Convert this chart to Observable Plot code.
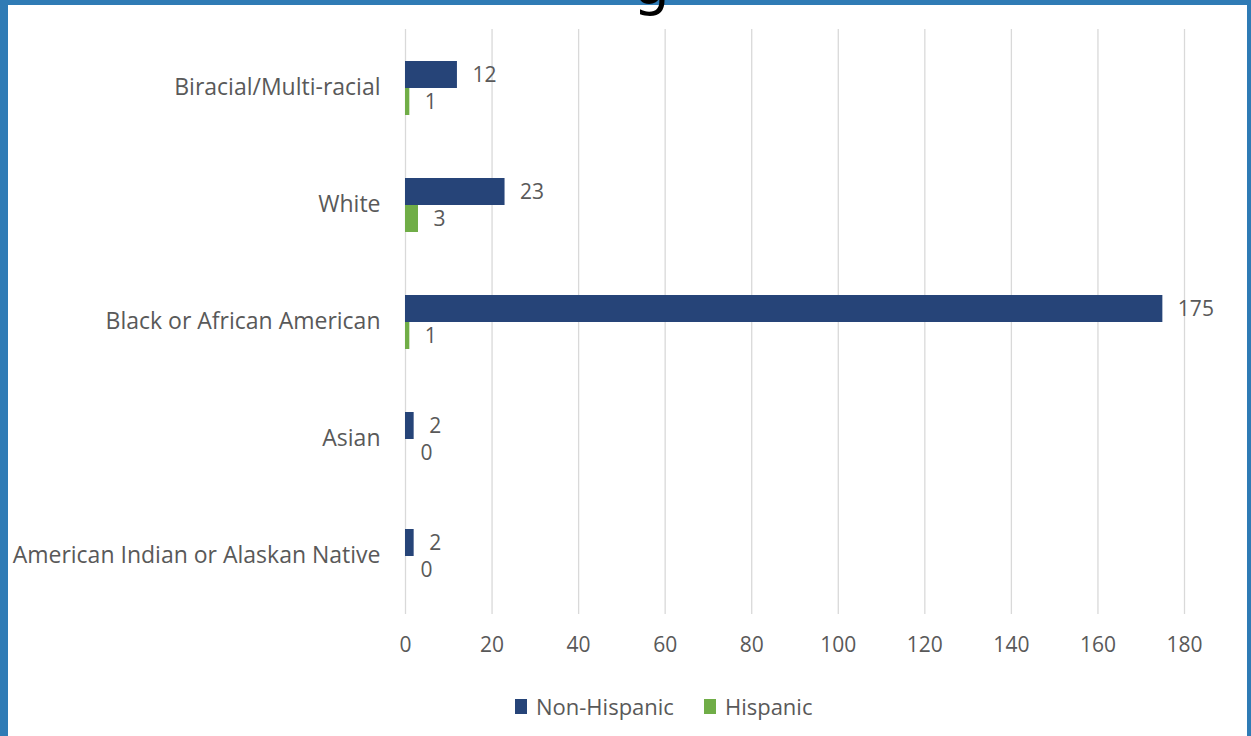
<!DOCTYPE html>
<html>
<head>
<meta charset="utf-8">
<script src="https://cdn.jsdelivr.net/npm/d3@7"></script>
<script src="https://cdn.jsdelivr.net/npm/@observablehq/plot@0.6"></script>
<style>
  html, body { margin: 0; padding: 0; background: #fff; }
  #frame { position: relative; width: 1251px; height: 736px; overflow: hidden; background: #fff; font-family: "Open Sans", Lato, sans-serif; }
  #chart { position: absolute; left: 0; top: 0; }
  .bar-l { position: absolute; left: 0; top: 0; width: 8px; height: 736px; background: #2f7bb5; }
  .bar-t { position: absolute; left: 0; top: 0; width: 1251px; height: 5px; background: #2f7bb5; }
  .bar-r { position: absolute; right: 0; top: 0; width: 4px; height: 736px; background: #2f7bb5; }
  #titlecut { position: absolute; left: 633px; top: -45px; font-family: "DejaVu Sans", sans-serif; font-size: 58px; line-height: 58px; color: #000; }
  #legend { position: absolute; top: 691px; left: 515px; display: flex; align-items: center; font-size: 22px; color: #595959; white-space: nowrap; }
  #legend .sw { display: inline-block; width: 12px; height: 15px; margin-right: 9px; }
  #legend .item { display: flex; align-items: center; margin-right: 30px; }
</style>
</head>
<body>
<div id="frame">
  <div id="chart"></div>
  <div class="bar-t"></div>
  <div class="bar-l"></div>
  <div class="bar-r"></div>
  <div id="titlecut">g</div>
  <div id="legend"></div>
</div>
<script>
const categories = ["Biracial/Multi-racial", "White", "Black or African American", "Asian", "American Indian or Alaskan Native"];
const seriesNames = ["Non-Hispanic", "Hispanic"];
const nonHispanic = [12, 23, 175, 2, 2];
const hispanic = [1, 3, 1, 0, 0];
const xTicks = [0, 20, 40, 60, 80, 100, 120, 140, 160, 180];
const seriesColors = ["#264478", "#70AD47"];

const rows = [];
categories.forEach((c, i) => {
  rows.push({cat: c, series: seriesNames[0], value: nonHispanic[i]});
  rows.push({cat: c, series: seriesNames[1], value: hispanic[i]});
});

const chart = Plot.plot({
  width: 1251,
  height: 670,
  marginLeft: 405,
  marginRight: 67,
  marginTop: 28,
  marginBottom: 55,
  style: {fontFamily: "'Open Sans', Lato, sans-serif", color: "#595959", background: "transparent"},
  x: {domain: [0, 180], ticks: xTicks},
  fy: {domain: categories, padding: 0},
  y: {domain: seriesNames, paddingInner: 0, paddingOuter: 1.14},
  color: {domain: seriesNames, range: seriesColors},
  marks: [
    Plot.gridX(xTicks, {stroke: "#d9d9d9", strokeOpacity: 1, strokeWidth: 1.3}),
    Plot.barX(rows, {fy: "cat", y: "series", x: "value", fill: "series"}),
    Plot.text(rows, {fy: "cat", y: "series", x: "value", text: d => String(d.value), dx: 15, textAnchor: "start", fill: "#595959", fontSize: 21}),
    Plot.axisX(xTicks, {anchor: "bottom", tickSize: 0, tickPadding: 23, fontSize: 21, label: null, tickFormat: d => String(d)}),
    Plot.axisFy({anchor: "left", tickSize: 0, tickPadding: 25, fontSize: 23, label: null}),
    Plot.axisY({ticks: [], label: null, tickSize: 0})
  ]
});
document.getElementById("chart").appendChild(chart);

const legend = document.getElementById("legend");
seriesNames.forEach((s, i) => {
  const item = document.createElement("span");
  item.className = "item";
  const sw = document.createElement("span");
  sw.className = "sw";
  sw.style.background = seriesColors[i];
  item.appendChild(sw);
  item.appendChild(document.createTextNode(s));
  legend.appendChild(item);
});
</script>
</body>
</html>
